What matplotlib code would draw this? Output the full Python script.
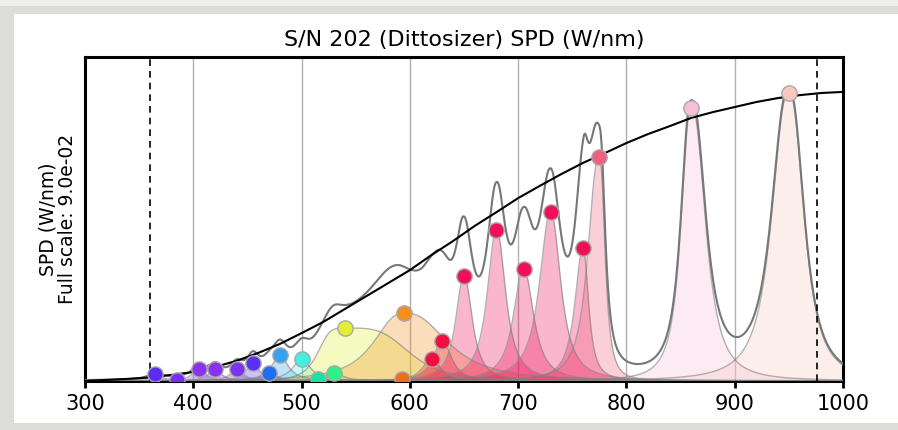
import numpy as np
import matplotlib
matplotlib.use("Agg")
import matplotlib.pyplot as plt
from matplotlib.patches import Rectangle

# LED channels: peak wavelength (nm), peak SPD (W/nm), half widths (nm), tail shape, colour
peak_nm = [365, 385, 405, 420, 440, 455, 470, 480, 500, 515, 530, 540,
           595, 593, 620, 630, 650, 680, 705, 730, 760, 775, 860, 950]
peak_spd = [0.0019, 0.0004, 0.0033, 0.0033, 0.0033, 0.0050, 0.0022, 0.0072,
            0.0061, 0.0006, 0.0022, 0.0147, 0.0189, 0.0006, 0.0061, 0.0111,
            0.0292, 0.0420, 0.0311, 0.0469, 0.0369, 0.0622, 0.0758, 0.0800]
half_left = [7, 7, 7, 7, 7, 7, 8, 9, 10, 10, 10, 26,
             32, 10, 10, 10, 9, 10, 11, 12, 9, 12, 11, 18]
half_right = [7, 7, 7, 7, 7, 7, 8, 9, 10, 10, 10, 62,
              45, 10, 10, 10, 9, 10, 11, 11, 6, 6, 15, 16]
tail_power = [2, 2, 2, 2, 2, 2, 2, 2, 2, 2, 2, 4,
              2.5, 2, 2.2, 2.2, 2.2, 2.2, 2.2, 2.2, 2.2, 2.5, 2.5, 2.5]
led_colors = ["#5a2cf5", "#7b2ff0", "#8a30f0", "#8a30f0", "#7b35f0", "#5a30f5",
              "#1f6ef0", "#3aa0f0", "#40f0e0", "#20e0a0", "#30f08a", "#e0f032",
              "#f39020", "#e87020", "#f01040", "#f01040", "#f0105a", "#f0105a",
              "#f0105a", "#f0105a", "#f0105a", "#f06080", "#f8c0d8", "#f8c8c0"]

# target SPD (black curve)
target_nm = [300, 320, 340, 360, 380, 400, 420, 440, 460, 480, 500, 520, 540,
             560, 580, 600, 620, 640, 660, 680, 700, 720, 740, 760, 780, 800,
             820, 840, 860, 880, 900, 920, 940, 960, 980, 1000]
target_spd = [0.0000, 0.0003, 0.0006, 0.0010, 0.0017, 0.0025, 0.0039, 0.0056,
              0.0078, 0.0103, 0.0133, 0.0164, 0.0200, 0.0236, 0.0272, 0.0308,
              0.0350, 0.0389, 0.0431, 0.0469, 0.0508, 0.0542, 0.0575, 0.0606,
              0.0633, 0.0661, 0.0686, 0.0708, 0.0731, 0.0747, 0.0761, 0.0775,
              0.0786, 0.0794, 0.0800, 0.0803]

range_lines = [360, 976]
full_scale = 0.09


def channel(wl, c, h, wl_left, wl_right, p):
    w = np.where(wl < c, wl_left, wl_right)
    return h / (1 + np.abs((wl - c) / w) ** p)


wl = np.arange(300, 1001, 1.0)

fig = plt.figure(figsize=(8.98, 4.30), dpi=100)
fig.patch.set_facecolor("#dcdcd8")
fig.patches.append(Rectangle((14 / 898, 7 / 430), 1, 409 / 430,
                             transform=fig.transFigure, facecolor="white",
                             edgecolor="none", zorder=-10))
fig.patches.append(Rectangle((0, 424 / 430), 1, 6 / 430,
                             transform=fig.transFigure, facecolor="#efefed",
                             edgecolor="none", zorder=-10))

ax = fig.add_axes([85 / 898, 49 / 430, 758 / 898, 324 / 430])
ax.set_zorder(5)
ax.patch.set_alpha(0)

total = np.zeros_like(wl)
for i in range(len(peak_nm)):
    s = channel(wl, peak_nm[i], peak_spd[i], half_left[i], half_right[i], tail_power[i])
    total += s
    ax.fill_between(wl, 0, s, color=led_colors[i], alpha=0.3, linewidth=0, zorder=2)
    ax.plot(wl, s, color="#808080", lw=1, alpha=0.6, zorder=3)

ax.plot(wl, total, color="#777777", lw=1.5, zorder=4)
ax.plot(target_nm, target_spd, color="black", lw=1.5, zorder=5)

for i in range(len(peak_nm)):
    ax.plot(peak_nm[i], peak_spd[i], "o", ms=11, color=led_colors[i],
            markeredgecolor="#a8a8a8", markeredgewidth=1, zorder=6)

for x in range_lines:
    ax.axvline(x, color="black", lw=1.2, linestyle=(0, (4, 3)), zorder=5)

ax.set_xlim(300, 1000)
ax.set_ylim(0, full_scale)
ax.set_xticks(range(300, 1001, 100))
ax.set_yticks([])
ax.grid(axis="x", color="#b0b0b0", lw=1, zorder=1)
ax.set_axisbelow(True)
for sp in ax.spines.values():
    sp.set_linewidth(2.2)
ax.tick_params(axis="x", direction="out", length=5, width=2, labelsize=15, pad=4)

ax.set_title("S/N 202 (Dittosizer) SPD (W/nm)", fontsize=16, pad=8)
ax.set_ylabel("SPD (W/nm)\nFull scale: %.1e" % full_scale, fontsize=13.5,
              labelpad=6, linespacing=1.0)

fig.savefig("out.png", dpi=100, facecolor=fig.get_facecolor())
